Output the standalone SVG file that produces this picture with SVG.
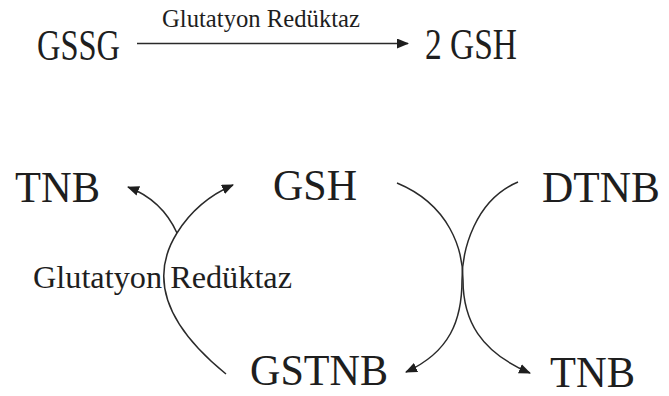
<svg xmlns="http://www.w3.org/2000/svg" width="669" height="396" viewBox="0 0 669 396">
<style>
.con{fill:none;stroke:#2a2a2a;stroke-width:1.5}
</style>
<defs>
<marker id="ah" markerUnits="userSpaceOnUse" markerWidth="12" markerHeight="10" refX="11" refY="5" orient="auto">
<path d="M0,0 L12,5 L0,10 z" fill="#1e1e1e"/>
</marker>
</defs>
<rect width="669" height="396" fill="#ffffff"/>
<g id="GSSG"><text font-family="Liberation Serif" font-size="45" fill="#1e1e1e" x="37" y="60" textLength="83" lengthAdjust="spacingAndGlyphs">GSSG</text></g>
<g id="GSH2"><text font-family="Liberation Serif" font-size="45" fill="#1e1e1e" x="425" y="59" textLength="92" lengthAdjust="spacingAndGlyphs">2 GSH</text></g>
<g id="TNB1"><text font-family="Liberation Serif" font-size="45" fill="#1e1e1e" x="15" y="202" textLength="85" lengthAdjust="spacingAndGlyphs">TNB</text></g>
<g id="GSH"><text font-family="Liberation Serif" font-size="45" fill="#1e1e1e" x="273" y="200" textLength="84" lengthAdjust="spacingAndGlyphs">GSH</text></g>
<g id="DTNB"><text font-family="Liberation Serif" font-size="45" fill="#1e1e1e" x="542" y="202" textLength="118" lengthAdjust="spacingAndGlyphs">DTNB</text></g>
<g id="GSTNB"><text font-family="Liberation Serif" font-size="45" fill="#1e1e1e" x="250" y="385" textLength="138" lengthAdjust="spacingAndGlyphs">GSTNB</text></g>
<g id="TNB2"><text font-family="Liberation Serif" font-size="45" fill="#1e1e1e" x="550" y="387" textLength="85" lengthAdjust="spacingAndGlyphs">TNB</text></g>
<g id="connectors">
<path class="con" d="M137,43.5 L408,43.5" marker-end="url(#ah)"/>
<text font-family="Liberation Serif" fill="#1e1e1e" x="162" y="27" font-size="25" textLength="198" lengthAdjust="spacingAndGlyphs">Glutatyon Redüktaz</text>
<path class="con" d="M226,374 Q135,300 177,233 C190,212 210,195 233,185" marker-end="url(#ah)"/>
<path class="con" d="M177,233 Q162,200 128,187" marker-end="url(#ah)"/>
<text font-family="Liberation Serif" fill="#1e1e1e" x="33" y="288" font-size="31" textLength="259" lengthAdjust="spacingAndGlyphs">Glutatyon Redüktaz</text>
<path class="con" d="M397,183 C450,205 463,250 463,280 C463,320 480,352 530,373" marker-end="url(#ah)"/>
<path class="con" d="M518,182 C475,200 462,250 462,280 C462,320 450,352 406,372" marker-end="url(#ah)"/>
</g>
</svg>
